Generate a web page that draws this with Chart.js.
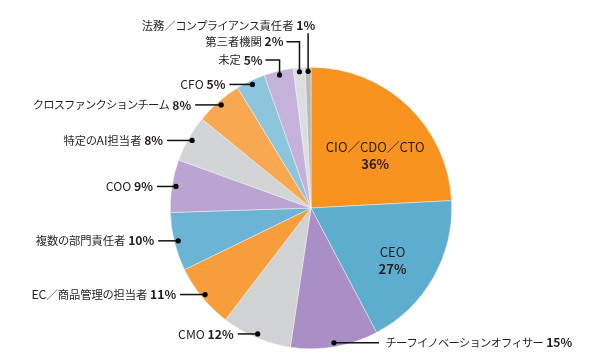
<!DOCTYPE html>
<html><head><meta charset="utf-8">
<script src="https://cdn.jsdelivr.net/npm/chart.js@4"></script>
<style>html,body{margin:0;padding:0;background:#fff}#wrap{width:600px;height:361px;position:relative}</style>
</head><body><div id="wrap"><canvas id="c"></canvas></div>
<script>
const categories = ["CIO／CDO／CTO","CEO","チーフイノベーションオフィサー","CMO","EC／商品管理の担当者","複数の部門責任者","COO","特定のAI担当者","クロスファンクションチーム","CFO","未定","第三者機関","法務／コンプライアンス責任者"];
const values = [36,27,15,12,11,10,9,8,8,5,5,2,1];
const colors = ["#F7931E","#5DADCF","#A98FC5","#D1D2D4","#F79E3A","#6BB4D4","#BAA5D2","#D3D4D6","#F7A851","#8DC5DD","#C4B2DA","#DCDDDE","#B8B9BB"];

const layout = [
  {type:"inside", ang:50.6, f:0.59},
  {type:"inside", ang:122.9, f:0.69},
  {type:"right", len:45},
  {type:"left", len:20},
  {type:"left", len:25},
  {type:"left", len:20},
  {type:"left", len:19},
  {type:"left", len:25},
  {type:"left", len:26},
  {type:"left", len:23},
  {type:"elbow", rise:15, len:14},
  {type:"elbow", rise:30, len:13},
  {type:"top", rise:45}
];
const FONT = '"Noto Sans CJK JP", "Noto Sans", sans-serif';
const TXT = "#231F20";

function isCJK(ch){ return ch.charCodeAt(0) >= 0x2E80; }
function isKana(ch){ const c=ch.charCodeAt(0); return (c>=0x3040 && c<=0x30FF); }
// split into segments with size
function segs(text, latinSize, cjkSize, bold){
  const out=[]; let cur=null;
  for (const ch of text){
    const cjk = isCJK(ch);
    if (cjk){ out.push({t:ch, size:cjkSize, kana:isKana(ch), bold}); cur=null; }
    else { if(!cur){cur={t:"",size:latinSize,kana:false,bold}; out.push(cur);} cur.t+=ch; }
  }
  return out;
}
function measureSegs(ctx, list){
  let w=0;
  list.forEach(s=>{ ctx.font=(s.bold?"bold ":"")+s.size+"px "+FONT; s.w=ctx.measureText(s.t).width + (s.kana?-0.8:0); w+=s.w; });
  return w;
}
function drawSegs(ctx, list, x, y){
  list.forEach(s=>{ ctx.font=(s.bold?"bold ":"")+s.size+"px "+FONT; ctx.fillText(s.t, x - (s.kana?0.4:0), y); x+=s.w; });
}

const calloutPlugin = {
  id:"callouts",
  afterDatasetsDraw(chart){
    const ctx = chart.ctx;
    const meta = chart.getDatasetMeta(0);
    ctx.save();
    ctx.textBaseline = "middle";
    ctx.textAlign = "left";
    ctx.fillStyle = TXT;
    meta.data.forEach((arc,i)=>{
      const p = arc.getProps(["x","y","startAngle","endAngle","outerRadius"],true);
      const mid = (p.startAngle+p.endAngle)/2;
      const L = layout[i];
      const name = categories[i];
      const pct = values[i]+"%";
      if (L.type==="inside"){
        const a = (L.ang-90)*Math.PI/180;
        const cx = p.x + Math.cos(a)*p.outerRadius*L.f;
        const cy = p.y + Math.sin(a)*p.outerRadius*L.f;
        const s1 = segs(name, 13, 12.5, false);
        const w1 = measureSegs(ctx, s1);
        ctx.fillStyle = TXT;
        drawSegs(ctx, s1, cx-w1/2, cy-8.5);
        const s2 = segs(pct, 13, 12.5, true);
        const w2 = measureSegs(ctx, s2);
        drawSegs(ctx, s2, cx-w2/2, cy+8.5);
        return;
      }
      const list = segs(name+" ", 12.2, 11.3, false).concat(segs(pct, 12.2, 11.3, true));
      const total = measureSegs(ctx, list);
      const r = p.outerRadius - 4;
      const dx = p.x + Math.cos(mid)*r;
      const dy = p.y + Math.sin(mid)*r;
      ctx.strokeStyle = "#111"; ctx.lineWidth = 1.5;
      ctx.beginPath();
      ctx.fillStyle = TXT;
      if (L.type==="left"){
        ctx.moveTo(dx,dy); ctx.lineTo(dx-L.len,dy); ctx.stroke();
        drawSegs(ctx, list, dx-L.len-4-total, dy);
      } else if (L.type==="right"){
        ctx.moveTo(dx,dy); ctx.lineTo(dx+L.len,dy); ctx.stroke();
        drawSegs(ctx, list, dx+L.len+7, dy);
      } else if (L.type==="elbow"){
        const ty = dy-L.rise;
        ctx.moveTo(dx,dy); ctx.lineTo(dx,ty); ctx.lineTo(dx-L.len,ty); ctx.stroke();
        drawSegs(ctx, list, dx-L.len-3-total, ty);
      } else if (L.type==="top"){
        const ty = dy-L.rise;
        ctx.moveTo(dx,dy); ctx.lineTo(dx,ty+7); ctx.stroke();
        drawSegs(ctx, list, dx+7-total, ty-1);
      }
      ctx.fillStyle="#000";
      ctx.beginPath(); ctx.arc(dx,dy,2.6,0,Math.PI*2); ctx.fill();
    });
    ctx.restore();
  }
};

new Chart(document.getElementById("c"),{
  type:"pie",
  data:{labels:categories,datasets:[{data:values,backgroundColor:colors,borderWidth:0.5,borderColor:"#f0f0f0"}]},
  options:{
    responsive:true, maintainAspectRatio:false, animation:false,
    layout:{padding:{left:170,right:148,top:67,bottom:12}},
    plugins:{legend:{display:false},tooltip:{enabled:false}}
  },
  plugins:[calloutPlugin]
});
</script></body></html>
